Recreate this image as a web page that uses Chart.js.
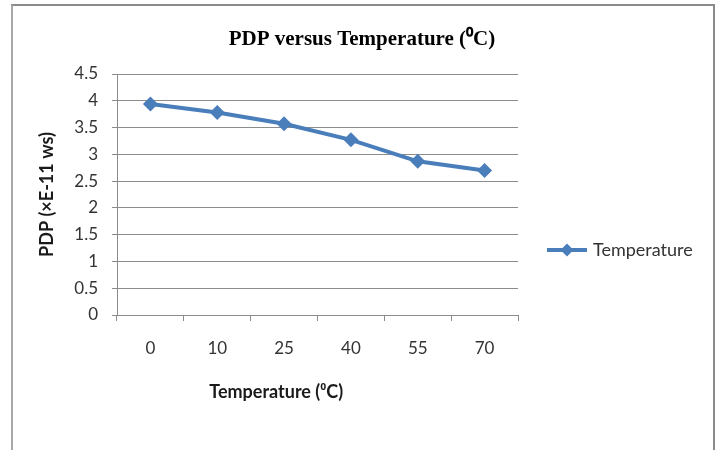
<!DOCTYPE html>
<html>
<head>
<meta charset="utf-8">
<script src="https://cdn.jsdelivr.net/npm/chart.js@4/dist/chart.umd.min.js"></script>
<style>
  html, body { margin: 0; padding: 0; background: #fff; }
  #wrap { position: relative; width: 718px; height: 450px; }
  #frame { position: absolute; left: 11px; top: 4px; width: 700px; height: 444px;
           border-top: 2px solid #8a8a8a; border-right: 2px solid #8a8a8a;
           border-left: 2px solid #a8a8a8; border-bottom: 1px solid #e2e2e2; }
  canvas { position: absolute; left: 0; top: 0; }
</style>
</head>
<body>
<div id="wrap">
  <div id="frame"></div>
  <canvas id="c" width="718" height="450"></canvas>
</div>
<script>
const categories = ['0', '10', '25', '40', '55', '70'];
const seriesName = 'Temperature';
const pdpValues = [3.94, 3.78, 3.57, 3.27, 2.87, 2.70];
const yTickLabels = ['0', '0.5', '1', '1.5', '2', '2.5', '3', '3.5', '4', '4.5'];
const chartTitle = 'PDP versus Temperature (\u2070C)';
const xTitle = 'Temperature (\u2070C)';
const yTitle = 'PDP (\u00d7E-11 ws)';

const BLUE = '#4a7ebb';
const GRID = '#8c8c8c';
const SANS = 'Lato, "Open Sans", sans-serif';

const customPlugin = {
  id: 'custom',
  afterDraw(chart) {
    const ctx = chart.ctx;
    const a = chart.chartArea;
    ctx.save();
    // chart title centred on the whole frame
    ctx.font = 'bold 21px "Liberation Serif", serif';
    ctx.fillStyle = '#000';
    ctx.textAlign = 'center';
    ctx.textBaseline = 'middle';
    ctx.fillText(chartTitle, 362, a.top - 34);
    // x axis title (offset left as in reference)
    ctx.font = 'bold 18px ' + SANS;
    ctx.fillStyle = '#1a1a1a';
    ctx.fillText(xTitle, a.left + (a.right - a.left) * 0.397, a.bottom + 77);
    // legend
    const ly = a.top + 176;
    const lx = a.right + 29;
    ctx.strokeStyle = BLUE;
    ctx.lineWidth = 4;
    ctx.beginPath();
    ctx.moveTo(lx, ly);
    ctx.lineTo(lx + 40, ly);
    ctx.stroke();
    ctx.fillStyle = BLUE;
    ctx.beginPath();
    const cx = lx + 20, r = 6.5;
    ctx.moveTo(cx, ly - r); ctx.lineTo(cx + r, ly); ctx.lineTo(cx, ly + r); ctx.lineTo(cx - r, ly);
    ctx.closePath();
    ctx.fill();
    ctx.font = '18px ' + SANS;
    ctx.fillStyle = '#333';
    ctx.textAlign = 'left';
    ctx.fillText(seriesName, lx + 46, ly);
    ctx.restore();
  }
};

new Chart(document.getElementById('c'), {
  type: 'line',
  data: {
    labels: categories,
    datasets: [{
      label: seriesName,
      data: pdpValues,
      borderColor: BLUE,
      backgroundColor: BLUE,
      borderWidth: 4,
      pointStyle: 'rectRot',
      pointRadius: 7.5,
      pointHoverRadius: 7.5,
      pointBorderWidth: 0,
      tension: 0,
      fill: false
    }]
  },
  options: {
    responsive: false,
    animation: false,
    devicePixelRatio: 1,
    layout: { padding: { left: 12, right: 200, bottom: 93, top: 74 } },
    plugins: {
      legend: { display: false },
      tooltip: { enabled: false },
      title: { display: false }
    },
    scales: {
      x: {
        offset: true,
        afterFit(s) { s.height = 42; },
        grid: { display: true, offset: true, drawOnChartArea: false, drawTicks: true, tickLength: 6, color: GRID },
        border: { color: GRID, width: 1 },
        ticks: { color: '#333', font: { family: SANS, size: 17 }, padding: 17, maxRotation: 0 }
      },
      y: {
        min: 0, max: 4.5,
        afterFit(s) { s.width = 105; },
        grid: { color: GRID, tickLength: 5 },
        border: { color: GRID, width: 1 },
        ticks: {
          stepSize: 0.5,
          color: '#333',
          font: { family: SANS, size: 17 },
          padding: 14,
          callback: (v, i) => yTickLabels[i]
        },
        title: {
          display: true,
          text: yTitle,
          color: '#1a1a1a',
          font: { family: SANS, size: 18, weight: 'bold' },
          padding: { top: 24, bottom: 0 }
        }
      }
    }
  },
  plugins: [customPlugin]
});
</script>
</body>
</html>
